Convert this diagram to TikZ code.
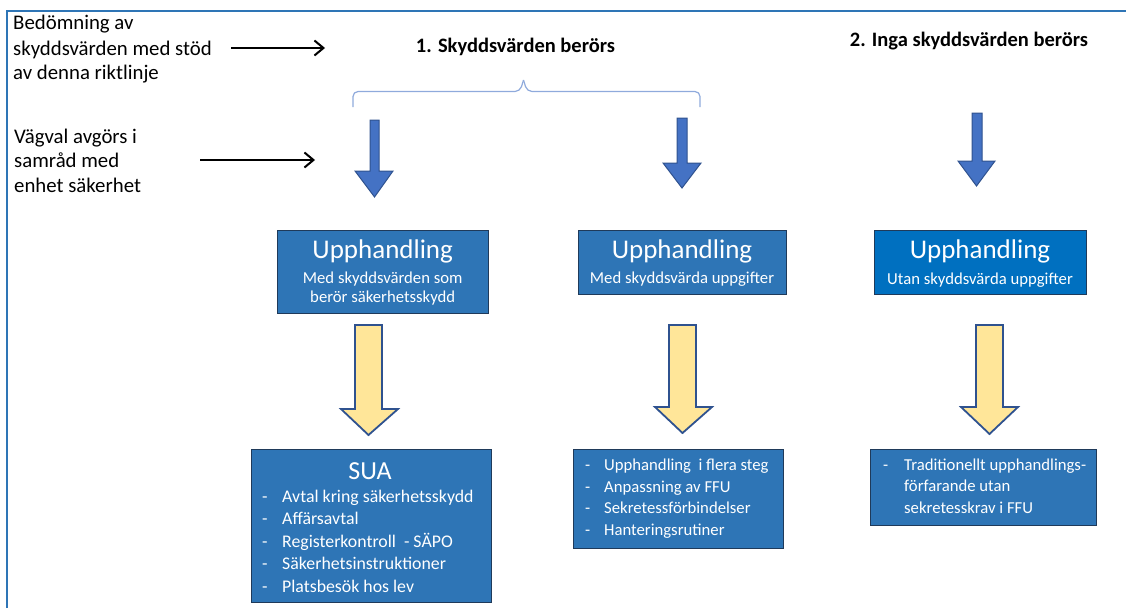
\documentclass[tikz,border=0pt]{standalone}
\usepackage{fontspec}
\setmainfont{Carlito}
\usetikzlibrary{arrows.meta}
\definecolor{frameblue}{HTML}{2E75B6}
\definecolor{boxblue}{HTML}{2E75B6}
\definecolor{boxbluetwo}{HTML}{0070C0}
\definecolor{arrblue}{HTML}{4472C4}
\definecolor{arrborder}{HTML}{2F528F}
\definecolor{yel}{HTML}{FFE699}
\definecolor{bracecol}{HTML}{8FAADC}
\definecolor{boxedge}{HTML}{1F3A5A}
\begin{document}
\begin{tikzpicture}[x=1pt,y=-1pt,
  upbox/.style={draw=boxedge, line width=1pt, fill=boxblue, anchor=north west, inner sep=0pt},
  boxtitle/.style={text=white, font=\fontsize{27}{30}\selectfont, inner sep=0pt, anchor=base},
  boxsub/.style={text=white, font=\fontsize{16.7}{19}\selectfont, inner sep=0pt, anchor=base},
  lista/.style={text=white, font=\fontsize{17.8}{20}\selectfont, inner sep=0pt, anchor=base west},
  listb/.style={text=white, font=\fontsize{16.7}{20}\selectfont, inner sep=0pt, anchor=base west},
  lefttext/.style={font=\fontsize{20.8}{24}\selectfont, inner sep=0pt, anchor=base west},
  heading/.style={font=\bfseries\fontsize{20.5}{24}\selectfont, inner sep=0pt},
  pointer/.style={line width=2pt, -{Straight Barb[length=9pt,width=15pt,line width=2pt]}},
  bluearrow/.style={fill=arrblue, draw=arrborder, line width=1pt, line join=miter},
  yelarrow/.style={fill=yel, draw=arrborder, line width=1.8pt, line join=miter},
]
\useasboundingbox (0,0) rectangle (1126,608);
% frame
\draw[frameblue, line width=2pt] (7,608) -- (7,11) -- (1127,11);

% left texts
\node[lefttext] (t1a) at (13,29.5) {Bedömning av};
\node[lefttext] (t1b) at (13,55) {skyddsvärden med stöd};
\node[lefttext] (t1c) at (13,79.5) {av denna riktlinje};
\node[lefttext] (t2a) at (14,143.5) {Vägval avgörs i};
\node[lefttext] (t2b) at (14,167.5) {samråd med};
\node[lefttext] (t2c) at (14,192) {enhet säkerhet};
\coordinate (p1s) at (231,48);
\coordinate (p1e) at (325,48);
\coordinate (p2s) at (200,160);
\coordinate (p2e) at (315,160);
\draw[pointer] (p1s) -- (p1e);
\draw[pointer] (p2s) -- (p2e);

% headings
\node[heading] (h1) at (515.5,47) {1. Skyddsvärden berörs};
\node[heading] (h2) at (969,41) {2. Inga skyddsvärden berörs};

% brace
\draw[bracecol, line width=1.2pt, rounded corners=5pt] (353,107) -- (353,91.5) -- (520,91.5) -- (523.5,80);
\draw[bracecol, line width=1.2pt, rounded corners=5pt] (700,107) -- (700,91.5) -- (527,91.5) -- (523.5,80);

% blue arrows
\draw[bluearrow] (370,120) -- (379,120) -- (379,171) -- (393,171) -- (374.5,197) -- (355,171) -- (370,171) -- cycle;
\draw[bluearrow] (677,118) -- (687,118) -- (687,163) -- (701,163) -- (682,188) -- (663,163) -- (677,163) -- cycle;
\draw[bluearrow] (972,113) -- (982,113) -- (982,161) -- (995,161) -- (976.5,186) -- (958,161) -- (972,161) -- cycle;

% upphandling boxes
\node[upbox, minimum width=211, minimum height=83] (b1) at (277,230) {};
\node[upbox, minimum width=208, minimum height=64] (b2) at (578,230) {};
\node[upbox, fill=boxbluetwo, minimum width=212, minimum height=64] (b3) at (874,230) {};
\node[boxtitle] (b1t) at (382.7,258) {Upphandling};
\node[boxsub] (b1s) at (382.7,283) {Med skyddsvärden som};
\node[boxsub] (b1u) at (382.7,302) {berör säkerhetsskydd};
\node[boxtitle] (b2t) at (682,258) {Upphandling};
\node[boxsub] (b2s) at (682,283) {Med skyddsvärda uppgifter};
\node[boxtitle] (b3t) at (980,258) {Upphandling};
\node[boxsub] (b3s) at (980,284) {Utan skyddsvärda uppgifter};

% yellow arrows
\draw[yelarrow] (355,325) -- (382,325) -- (382,409) -- (398,409) -- (368.5,435) -- (341,409) -- (355,409) -- cycle;
\draw[yelarrow] (669,325) -- (696,325) -- (696,407) -- (712,407) -- (682.5,433) -- (655,407) -- (669,407) -- cycle;
\draw[yelarrow] (976,325) -- (1003,325) -- (1003,407) -- (1018,407) -- (989.5,434) -- (961,407) -- (976,407) -- cycle;

% bottom boxes
\node[upbox, minimum width=240, minimum height=153] (c1) at (251,449) {};
\node[upbox, minimum width=210, minimum height=99] (c2) at (573,449) {};
\node[upbox, minimum width=226, minimum height=76] (c3) at (870,449) {};
\node[boxtitle, font=\fontsize{26}{30}\selectfont] (c1t) at (370,479) {SUA};
\foreach \n/\y/\t in {1/502/Avtal kring säkerhetsskydd, 2/524.5/Affärsavtal, 3/547/Registerkontroll\ \ - SÄPO, 4/569.5/Säkerhetsinstruktioner, 5/592/Platsbesök hos lev}{
  \node[lista] (c1d\n) at (262,\y) {-};
  \node[lista] (c1i\n) at (282,\y) {\t};
}
\foreach \n/\y/\t in {1/470.5/Upphandling\ \ i flera steg, 2/492/Anpassning av FFU, 3/513.5/Sekretessförbindelser, 4/535/Hanteringsrutiner}{
  \node[listb] (c2d\n) at (585,\y) {-};
  \node[listb] (c2i\n) at (604,\y) {\t};
}
\node[listb] (c3d1) at (883,470) {-};
\node[listb] (c3i1) at (904,470) {Traditionellt upphandlings-};
\node[listb] (c3i2) at (904,491.5) {förfarande utan};
\node[listb] (c3i3) at (904,513) {sekretesskrav i FFU};
\end{tikzpicture}
\end{document}
